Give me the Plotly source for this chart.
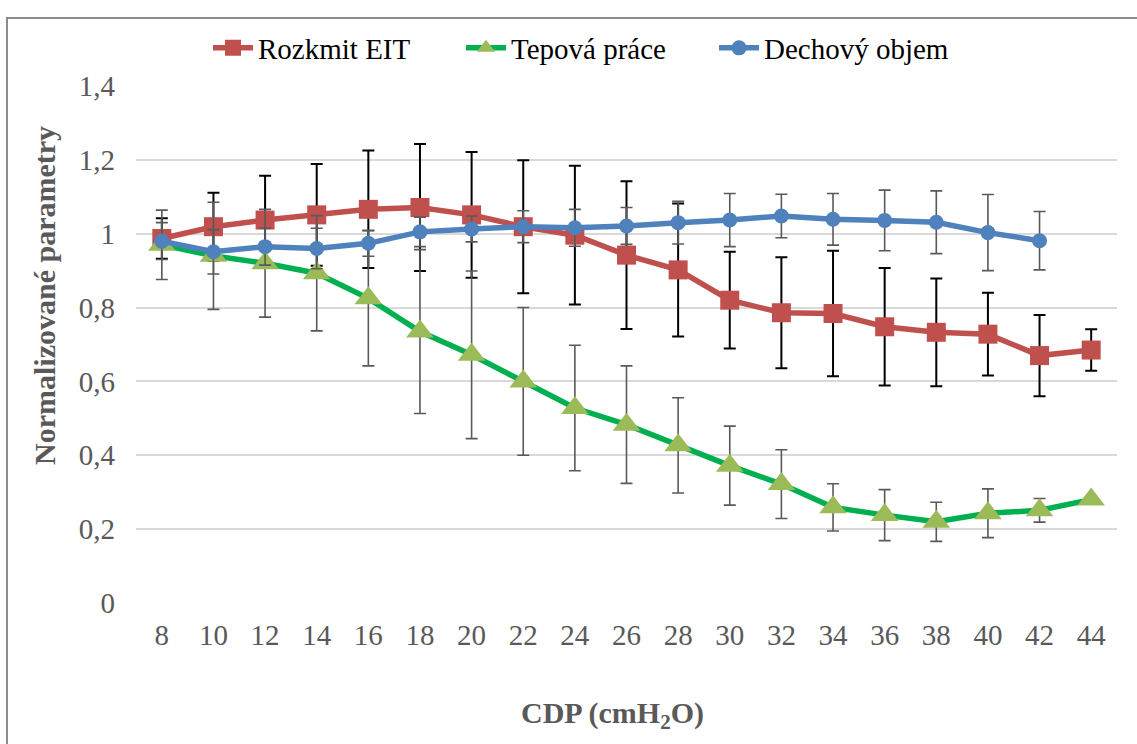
import plotly.graph_objects as go

cdp = [8, 10, 12, 14, 16, 18, 20, 22, 24, 26, 28, 30, 32, 34, 36, 38, 40, 42, 44]

rozkmit = [0.987, 1.019, 1.037, 1.051, 1.066, 1.071, 1.051, 1.019, 0.996, 0.942,
           0.902, 0.820, 0.786, 0.784, 0.748, 0.733, 0.728, 0.670, 0.685]
rozkmit_err = [0.055, 0.092, 0.12, 0.138, 0.159, 0.172, 0.17, 0.18, 0.188, 0.2,
               0.18, 0.131, 0.15, 0.17, 0.159, 0.146, 0.112, 0.11, 0.056]

tepova = [0.97, 0.94, 0.92, 0.893, 0.825, 0.735, 0.672, 0.600, 0.528, 0.483,
          0.427, 0.372, 0.322, 0.259, 0.238, 0.220, 0.243, 0.251, 0.280]
tepova_err = [0.094, 0.145, 0.146, 0.156, 0.183, 0.222, 0.227, 0.2, 0.17, 0.159,
              0.129, 0.107, 0.093, 0.064, 0.069, 0.053, 0.066, 0.032, 0]

cdp_dech = cdp[:18]
dechovy = [0.980, 0.951, 0.965, 0.960, 0.974, 1.005, 1.013, 1.019, 1.016, 1.021,
           1.030, 1.037, 1.048, 1.039, 1.036, 1.031, 1.003, 0.981]
dechovy_err = [0.05, 0.06, 0.05, 0.055, 0.035, 0.04, 0.035, 0.043, 0.05, 0.05,
               0.058, 0.072, 0.059, 0.07, 0.082, 0.085, 0.103, 0.079]

y_tickvals = [0, 0.2, 0.4, 0.6, 0.8, 1.0, 1.2, 1.4]
y_ticktext = ["0", "0,2", "0,4", "0,6", "0,8", "1", "1,2", "1,4"]

names = ["Rozkmit EIT", "Tepová práce", "Dechový objem"]

FONT = "Liberation Serif"

fig = go.Figure()
fig.add_trace(go.Scatter(
    x=cdp, y=rozkmit, name=names[0], mode="lines+markers",
    line=dict(color="#C0504D", width=5.5),
    marker=dict(symbol="square", size=19, color="#C0504D"),
    error_y=dict(type="data", array=rozkmit_err, visible=True,
                 color="#000000", thickness=2, width=6),
))
fig.add_trace(go.Scatter(
    x=cdp, y=tepova, name=names[1], mode="lines+markers",
    line=dict(color="#00B050", width=5.5),
    marker=dict(symbol="triangle-up", size=24, color="#9BBB59"),
    error_y=dict(type="data", array=tepova_err, visible=True,
                 color="#595959", thickness=1.6, width=6),
))
fig.add_trace(go.Scatter(
    x=cdp_dech, y=dechovy, name=names[2], mode="lines+markers",
    line=dict(color="#4F81BD", width=5.5),
    marker=dict(symbol="circle", size=15, color="#4F81BD"),
    error_y=dict(type="data", array=dechovy_err, visible=True,
                 color="#595959", thickness=1.6, width=6),
))

L, R, T, B = 136, 20, 86, 141
W, H = 1137, 744
pw, ph = W - L - R, H - T - B

def px_x(p):
    return (p - L) / pw

def px_y(p):
    return (H - B - p) / ph

fig.update_layout(
    width=W, height=H,
    margin=dict(l=L, r=R, t=T, b=B),
    paper_bgcolor="white", plot_bgcolor="white",
    font=dict(family=FONT, size=29, color="#595959"),
    showlegend=True,
    legend=dict(orientation="h", x=px_x(208), xanchor="left",
                y=px_y(48), yanchor="middle",
                font=dict(family=FONT, size=29, color="#000000"),
                bgcolor="rgba(0,0,0,0)", itemwidth=40,
                entrywidth=198, entrywidthmode="pixels"),
    xaxis=dict(range=[7, 45], tickvals=cdp, ticktext=[str(v) for v in cdp],
               showgrid=False, zeroline=False, showline=False, ticks="",
               ticklabelstandoff=12,
               tickfont=dict(family=FONT, size=29, color="#595959")),
    yaxis=dict(range=[0, 1.4], tickvals=y_tickvals, ticktext=y_ticktext,
               showgrid=True, gridcolor="#D9D9D9", gridwidth=1.5,
               zeroline=False, showline=False, ticks="",
               ticklabelstandoff=20,
               tickfont=dict(family=FONT, size=29, color="#595959")),
    annotations=[
        dict(text="<b>CDP (cmH<sub>2</sub>O)</b>", xref="paper", yref="paper",
             x=px_x(612), y=px_y(715), xanchor="center", yanchor="middle",
             showarrow=False, font=dict(family=FONT, size=30, color="#595959")),
        dict(text="<b>Normalizované parametry</b>", xref="paper", yref="paper",
             x=px_x(44), y=px_y(296), xanchor="center", yanchor="middle",
             textangle=-90, showarrow=False,
             font=dict(family=FONT, size=30, color="#595959")),
    ],
    shapes=[
        dict(type="rect", xref="paper", yref="paper",
             x0=px_x(7), x1=px_x(1145), y0=px_y(18), y1=px_y(760),
             line=dict(color="#8C8C8C", width=2), fillcolor="rgba(0,0,0,0)",
             layer="below"),
    ],
)

fig.write_html("out.html")
